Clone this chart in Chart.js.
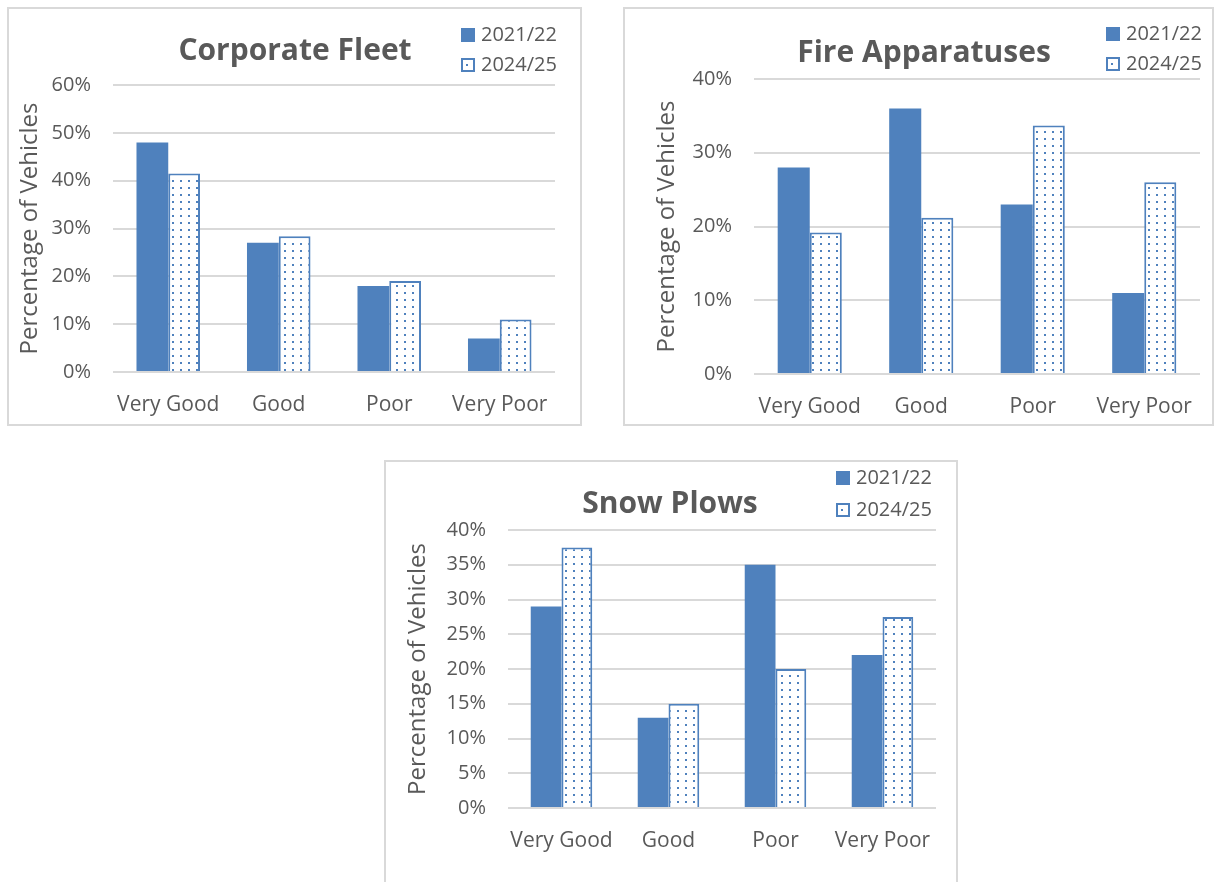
<!DOCTYPE html>
<html>
<head>
<meta charset="utf-8">
<title>Vehicle condition</title>
<script src="https://cdn.jsdelivr.net/npm/chart.js@4.4.1/dist/chart.umd.min.js"></script>
<style>
    body {
        margin: 0;
        width: 1215px;
        height: 882px;
        overflow: hidden;
        position: relative;
        background: #fff;
    }
    .panel {
        position: absolute;
        box-sizing: border-box;
        border: 2px solid #D9D9D9;
        background: #fff;
    }
    .panel canvas {
        display: block;
    }
</style>
</head>
<body>
<div class="panel" style="left:7px; top:7px; width:575px; height:419px;">
    <canvas id="fleetChart" width="571" height="415"></canvas>
</div>
<div class="panel" style="left:623px; top:7px; width:591px; height:419px;">
    <canvas id="fireChart" width="587" height="415"></canvas>
</div>
<div class="panel" style="left:384px; top:460px; width:574px; height:440px;">
    <canvas id="plowChart" width="570" height="436"></canvas>
</div>

<script>
// Condition categories and the two survey periods
const categories = ['Very Good', 'Good', 'Poor', 'Very Poor'];
const periods = ['2021/22', '2024/25'];

// Percentage of vehicles in each condition
const fleet2122 = [48, 27, 18, 7];
const fleet2425 = [41.5, 28.4, 19, 11];

const fire2122 = [28, 36, 23, 11];
const fire2425 = [19.2, 21.2, 33.7, 26];

const plows2122 = [29, 13, 35, 22];
const plows2425 = [37.5, 15, 20, 27.5];

// Y axis tick values
const fleetTicks = [0, 10, 20, 30, 40, 50, 60];
const fireTicks = [0, 10, 20, 30, 40];
const plowTicks = [0, 5, 10, 15, 20, 25, 30, 35, 40];

const BLUE = '#4F81BD';
const TEXT = '#595959';
const FONT = '"Open Sans", sans-serif';

Chart.defaults.font.family = FONT;
Chart.defaults.color = TEXT;

// white fill with small blue dots for the 2024/25 bars
function dotPattern(ctx) {
    const tile = document.createElement('canvas');
    tile.width = 8;
    tile.height = 7;
    const t = tile.getContext('2d');
    t.fillStyle = '#fff';
    t.fillRect(0, 0, 8, 7);
    t.fillStyle = BLUE;
    t.fillRect(3, 3, 2, 2);
    return ctx.createPattern(tile, 'repeat');
}

// chart title plus a stacked legend in the top right corner
const headerPlugin = {
    id: 'header',
    afterDraw(chart, args, opts) {
        const ctx = chart.ctx;
        ctx.save();

        ctx.fillStyle = TEXT;
        ctx.font = 'bold 30px ' + FONT;
        ctx.textAlign = 'center';
        ctx.textBaseline = 'middle';
        ctx.fillText(opts.title, opts.titleX, opts.titleY);

        ctx.font = '20px ' + FONT;
        ctx.textAlign = 'left';
        chart.data.datasets.forEach((ds, i) => {
            const x = opts.legendX;
            const y = opts.legendY + i * opts.rowGap;
            if (ds.borderWidth) {
                ctx.fillStyle = '#fff';
                ctx.fillRect(x, y, 14, 14);
                ctx.strokeStyle = ds.borderColor;
                ctx.lineWidth = 2;
                ctx.strokeRect(x + 1, y + 1, 12, 12);
                ctx.fillStyle = ds.borderColor;
                ctx.fillRect(x + 5, y + 6, 2, 2);
            } else {
                ctx.fillStyle = ds.backgroundColor;
                ctx.fillRect(x, y, 14, 14);
            }
            ctx.fillStyle = TEXT;
            ctx.fillText(ds.label, x + 20, y + 7);
        });
        ctx.restore();
    }
};

function makeChart(id, first, second, ticks, box) {
    const ctx = document.getElementById(id).getContext('2d');
    return new Chart(ctx, {
        type: 'bar',
        data: {
            labels: categories,
            datasets: [
                {
                    label: periods[0],
                    data: first,
                    backgroundColor: BLUE,
                    borderWidth: 0
                },
                {
                    label: periods[1],
                    data: second,
                    backgroundColor: dotPattern(ctx),
                    borderColor: BLUE,
                    borderWidth: 2
                }
            ]
        },
        options: {
            responsive: false,
            maintainAspectRatio: false,
            animation: false,
            devicePixelRatio: 1,
            categoryPercentage: 0.575,
            barPercentage: 1,
            layout: { padding: box.padding },
            plugins: {
                legend: { display: false },
                tooltip: { enabled: false },
                title: { display: false },
                header: box.header
            },
            scales: {
                x: {
                    grid: { display: false },
                    border: { display: false },
                    ticks: { font: { size: 21 }, padding: 12, maxRotation: 0 },
                    afterFit(scale) { scale.height = box.xHeight; }
                },
                y: {
                    min: ticks[0],
                    max: ticks[ticks.length - 1],
                    border: { display: false },
                    grid: { color: '#D9D9D9', lineWidth: 2, drawTicks: false },
                    ticks: {
                        stepSize: ticks[1] - ticks[0],
                        font: { size: 20 },
                        padding: 22,
                        callback: v => v + '%'
                    },
                    title: {
                        display: true,
                        text: 'Percentage of Vehicles',
                        font: { size: 24 },
                        padding: 0
                    },
                    afterFit(scale) { scale.width = box.yWidth; }
                }
            }
        },
        plugins: [headerPlugin]
    });
}

makeChart('fleetChart', fleet2122, fleet2425, fleetTicks, {
    padding: { left: 7, right: 25, top: 76, bottom: 0 },
    yWidth: 97,
    xHeight: 52,
    header: { title: 'Corporate Fleet', titleX: 286, titleY: 42, legendX: 452, legendY: 19, rowGap: 30 }
});

makeChart('fireChart', fire2122, fire2425, fireTicks, {
    padding: { left: 28, right: 12, top: 70, bottom: 0 },
    yWidth: 101,
    xHeight: 50,
    header: { title: 'Fire Apparatuses', titleX: 299, titleY: 44, legendX: 481, legendY: 18, rowGap: 30 }
});

makeChart('plowChart', plows2122, plows2425, plowTicks, {
    padding: { left: 18, right: 20, top: 68, bottom: 34 },
    yWidth: 104,
    xHeight: 56,
    header: { title: 'Snow Plows', titleX: 284, titleY: 42, legendX: 450, legendY: 9, rowGap: 32 }
});
</script>
</body>
</html>
